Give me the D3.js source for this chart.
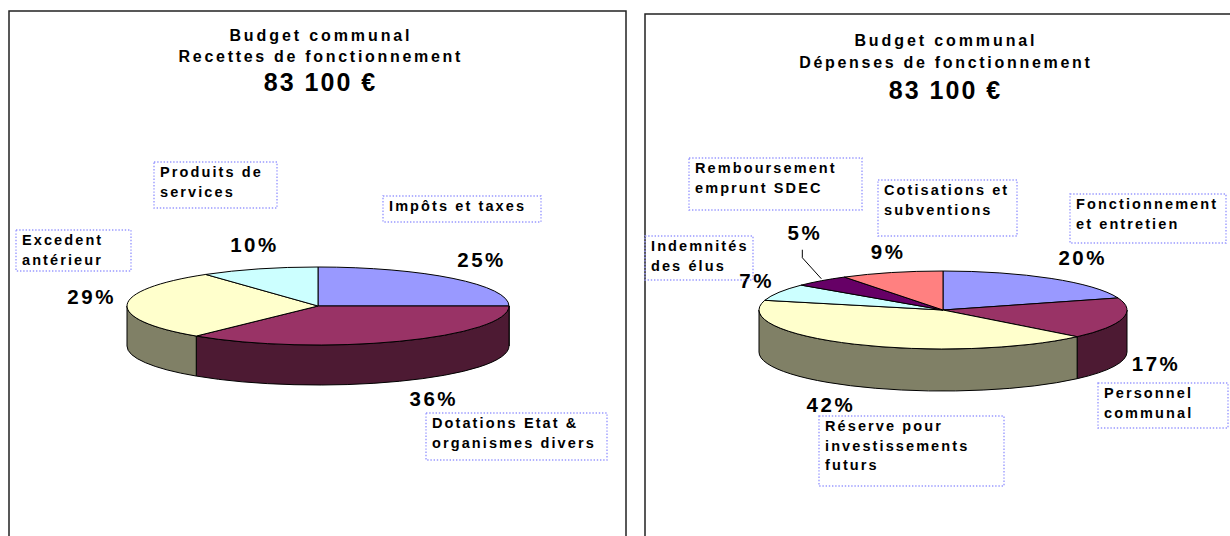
<!DOCTYPE html>
<html>
<head>
<meta charset="utf-8">
<style>
  body { margin: 0; background: #fff; }
  text { font-family: "Liberation Sans", Arial, sans-serif; font-weight: bold; fill: #000; }
  .frame { fill: #fff; stroke: #222; stroke-width: 1.5; }
  .box { fill: none; stroke: #9999ff; stroke-width: 1.4; stroke-dasharray: 1.4,1.8; }
  .slice { stroke: #000; stroke-width: 1; stroke-linejoin: round; }
  .leader { fill: none; stroke: #000; stroke-width: 1; }
</style>
</head>
<body>
<svg id="chart" width="1230" height="536"></svg>
<script src="https://cdn.jsdelivr.net/npm/d3@7"></script>
<script>
// Recettes (left chart), in %
const recettesCategories = ["Impôts et taxes", "Dotations Etat &\norganismes divers", "Excedent\nantérieur", "Produits de\nservices"]
const recettesValues = [25, 36, 29, 10]

// Dépenses (right chart), in %
const depensesCategories = ["Fonctionnement\net entretien", "Personnel\ncommunal", "Réserve pour\ninvestissements\nfuturs",
    "Indemnités\ndes élus", "Remboursement\nemprunt SDEC", "Cotisations et\nsubventions"]
const depensesValues = [20, 17, 42, 7, 5, 9]

const titleLines = ["Budget communal", "Recettes de fonctionnement", "Dépenses de fonctionnement"]
const totalLabel = "83 100 €"

const sliceColors = ["#9999ff", "#993366", "#ffffcc", "#ccffff", "#660066", "#ff8080"]

// layout of the two panels
let panels = [
    {
        frame: [9, 11], cx: 318, cy: 306, rx: 191, ry: 39, depth: 40,
        titles: [titleLines[0], titleLines[1], totalLabel], titleY: [41, 62, 91],
        categories: recettesCategories, values: recettesValues,
        pctOffset: [[27, -11], [33, 25], [-37, -1], [-6, -17]],
        boxes: [[383, 196, 158, 26], [426, 413, 181, 47], [16, 230, 115, 41], [154, 162, 123, 46]],
        leader: -1
    },
    {
        frame: [645, 14], cx: 943, cy: 310, rx: 184, ry: 39, depth: 42,
        titles: [titleLines[0], titleLines[2], totalLabel], titleY: [46, 68, 99],
        categories: depensesCategories, values: depensesValues,
        pctOffset: [[30, -13], [32, 10], [-25, 26], [-24, -4], [-18, -41], [-5, -14]],
        boxes: [[1070, 194, 156, 49], [1098, 383, 130, 45], [819, 416, 185, 70], [645, 236, 108, 44],
                [689, 158, 173, 52], [878, 180, 139, 56]],
        leader: 4
    }
]

let svg = d3.select("#chart")
let color = d3.scaleOrdinal().range(sliceColors)
let pie = d3.pie().sort(null).value(d => d)

function pt(p, a, dz) {
    return [p.cx + p.rx * Math.sin(a), p.cy - p.ry * Math.cos(a) + (dz || 0)]
}

function topPath(p, d) {
    let [x0, y0] = pt(p, d.startAngle)
    let [x1, y1] = pt(p, d.endAngle)
    let large = d.endAngle - d.startAngle > Math.PI ? 1 : 0
    return `M${p.cx},${p.cy}L${x0},${y0}A${p.rx},${p.ry} 0 ${large} 1 ${x1},${y1}Z`
}

// visible outer wall: only the front half (90° .. 270°)
function sidePath(p, d) {
    let a0 = Math.max(d.startAngle, Math.PI / 2)
    let a1 = Math.min(d.endAngle, 3 * Math.PI / 2)
    if (a1 <= a0) return null
    let [x0, y0] = pt(p, a0)
    let [x1, y1] = pt(p, a1)
    return `M${x0},${y0}A${p.rx},${p.ry} 0 0 1 ${x1},${y1}L${x1},${y1 + p.depth}` +
        `A${p.rx},${p.ry} 0 0 0 ${x0},${y0 + p.depth}Z`
}

function anchor(p, d) {
    let mid = (d.startAngle + d.endAngle) / 2
    let front = mid > Math.PI / 2 && mid < 3 * Math.PI / 2
    return pt(p, mid, front ? p.depth : 0)
}

panels.forEach(p => {
    let g = svg.append("g")

    g.append("rect").attr("class", "frame")
        .attr("x", p.frame[0]).attr("y", p.frame[1])
        .attr("width", 617).attr("height", 600)

    // titles
    let tsize = [16, 16, 25], tspace = [2.9, 2.7, 2]
    p.titles.forEach((t, i) => {
        g.append("text")
            .attr("x", p.cx + 1.5 + tspace[i] / 2).attr("y", p.titleY[i])
            .attr("text-anchor", "middle")
            .style("font-size", tsize[i] + "px")
            .style("letter-spacing", tspace[i] + "px")
            .text(t)
    })

    let arcs = pie(p.values)

    g.selectAll(".side").data(arcs.filter(d => sidePath(p, d)))
        .enter().append("path")
        .attr("class", "slice side")
        .attr("d", d => sidePath(p, d))
        .attr("fill", d => d3.color(color(d.index)).darker(1.94))

    g.selectAll(".top").data(arcs)
        .enter().append("path")
        .attr("class", "slice top")
        .attr("d", d => topPath(p, d))
        .attr("fill", d => color(d.index))

    // percentage labels
    arcs.forEach(d => {
        let [ax, ay] = anchor(p, d)
        let lx = ax + p.pctOffset[d.index][0]
        let ly = ay + p.pctOffset[d.index][1]
        g.append("text")
            .attr("x", lx + 1.5).attr("y", ly)
            .attr("text-anchor", "middle")
            .style("font-size", "20.5px")
            .style("letter-spacing", "2.5px")
            .text(d.data + "%")
        if (d.index == p.leader) {
            g.append("polyline").attr("class", "leader")
                .attr("points", [[lx - 1, ly + 10], [lx - 1, ly + 18], [ax, ay - 2]].join(" "))
        }
    })

    // category boxes
    p.categories.forEach((c, i) => {
        let [bx, by, bw, bh] = p.boxes[i]
        g.append("rect").attr("class", "box")
            .attr("x", bx).attr("y", by).attr("width", bw).attr("height", bh)
        let t = g.append("text")
            .style("font-size", "14.5px")
            .style("letter-spacing", "2.1px")
        c.split("\n").forEach((line, j) => {
            t.append("tspan").attr("x", bx + 6).attr("y", by + 15 + j * 19.5).text(line)
        })
    })
})
</script>
</body>
</html>
